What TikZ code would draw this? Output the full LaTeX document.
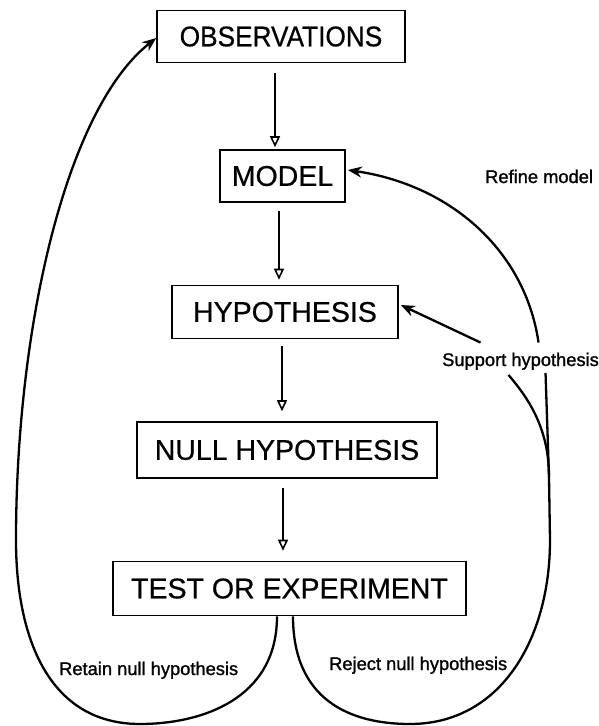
\documentclass[tikz,border=0pt]{standalone}
\usepackage{fontspec}
\setmainfont{Liberation Sans}
\newfontfamily\boxfnt{Liberation Sans}[FakeBold=0.6]
\newfontfamily\labfnt{Liberation Sans}[FakeBold=1.2]
\usetikzlibrary{arrows.meta,calc}
\begin{document}
\begin{tikzpicture}[x=1pt,y=-1pt,
  box/.style={draw,line width=1.6pt,inner sep=0pt,font=\boxfnt\fontsize{28.5}{30}\selectfont},
  lab/.style={inner sep=0pt,anchor=base west,font=\labfnt\fontsize{18.3}{20}\selectfont},
  varrow/.style={line width=2.1pt,-{Triangle[open,length=11pt,width=10pt,line width=1.6pt]}},
  loopline/.style={line width=2.3pt},
  tipped/.style={-{Stealth[length=14pt,width=11pt]}}]
\useasboundingbox (0,0) rectangle (599,726);
% boxes
\node[box,minimum width=248pt,minimum height=52pt] (obs) at (281,36.5) {\scalebox{0.92}[1]{OBSERVATIONS}};
\node[box,minimum width=125pt,minimum height=52pt] (model) at (282.5,176) {MODEL};
\node[box,minimum width=226pt,minimum height=53pt] (hyp) at (285,312) {HYPOTHESIS};
\node[box,minimum width=300pt,minimum height=56pt] (null) at (287,450) {NULL HYPOTHESIS};
\node[box,minimum width=353pt,minimum height=54pt] (test) at (289.5,588.5) {TEST OR EXPERIMENT};
% labels
\node[lab] (refine) at (485,183) {Refine model};
\node[lab] (sup) at (442,366) {Support hypothesis};
\node[lab] (retain) at (59,675) {Retain null hypothesis};
\node[lab] (reject) at (329,670) {Reject null hypothesis};
% vertical arrows
\draw[varrow] ($(obs.south)+(-6,10)$) -- ($(obs.south |- model.north)+(-6,-2)$);
\draw[varrow] ($(model.south)+(-3.5,8)$) -- ($(model.south |- hyp.north)+(-3.5,-5)$);
\draw[varrow] ($(hyp.south)+(-3,7)$) -- ($(hyp.south |- null.north)+(-3,-10)$);
\draw[varrow] ($(null.south)+(-4,9)$) -- ($(null.south |- test.north)+(-4,-10)$);
% left loop: retain null hypothesis
\draw[loopline,tipped] ($(test.south)+(-12.5,0)$) .. controls (277,700) and (200,724) .. (140,724)
  .. controls (50,724) and (16,640) .. (16,540)
  .. controls (16,330) and (65,110) .. ($(obs.west)+(0,1.5)$);
% right loop: reject null hypothesis
\coordinate (split) at (549,477);
\draw[loopline] ($(test.south)+(3.5,0)$) .. controls (293,700) and (350,724) .. (410,724)
  .. controls (500,724) and (550,640) .. (550,540) -- (split) -- ($(sup.south)+(25,3)$);
\draw[loopline] (split) .. controls (549,430) and (530,400) .. ($(sup.south)+(-12,5)$);
\draw[loopline,tipped] ($(sup.north)+(-40,-10)$) -- ($(hyp.east)+(2,-7)$);
\draw[loopline,tipped] ($(sup.north)+(18,-10)$) .. controls (525,250) and (450,185) .. ($(model.east)+(2,-6)$);
\end{tikzpicture}
\end{document}
